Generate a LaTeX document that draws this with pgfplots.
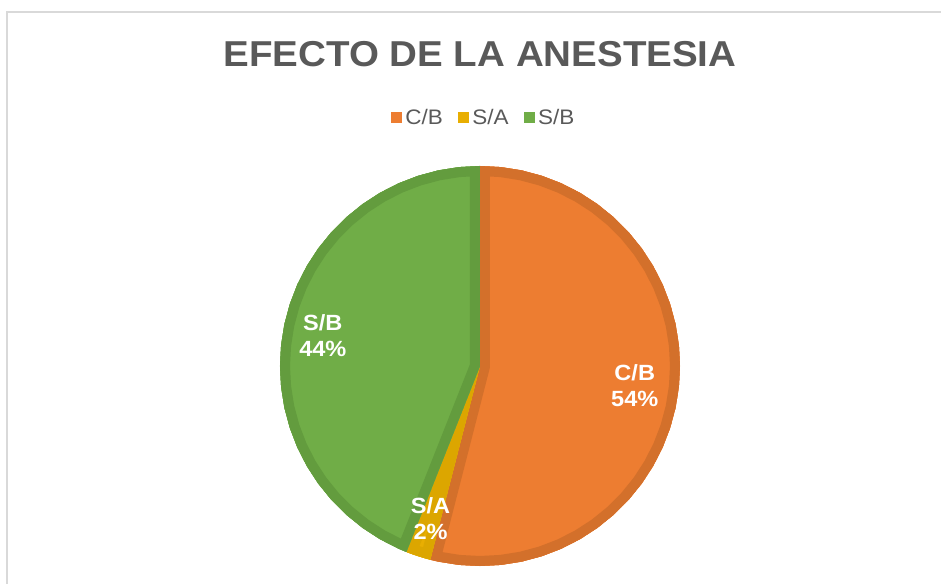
\documentclass[border=0pt]{standalone}
\usepackage{pgfplots}
\pgfplotsset{compat=1.18}
\usepgfplotslibrary{polar}
\usepackage{fontspec}
\setmainfont{Liberation Sans}[FakeStretch=1.07]
\definecolor{cbfill}{HTML}{ED7D31}
\definecolor{cbline}{HTML}{D3702B}
\definecolor{safill}{HTML}{E8AE02}
\definecolor{saline}{HTML}{DCA600}
\definecolor{sbfill}{HTML}{70AD47}
\definecolor{sbline}{HTML}{639C3E}
\definecolor{txtgrey}{HTML}{595959}
\definecolor{framegrey}{HTML}{D9D9D9}
\tikzset{slice/.style n args={2}{fill=#1, draw=none,
  postaction={clip, postaction={draw=#2, line width=15pt, line join=miter}}}}
\begin{document}
\begin{tikzpicture}
\useasboundingbox (-360pt,-163.5pt) rectangle (345.75pt,274.5pt);
\draw[framegrey, line width=1.5pt] (-354.75pt,-170pt) -- (-354.75pt,265.5pt) -- (350pt,265.5pt);
\begin{polaraxis}[
  at={(0pt,0pt)}, anchor=center,
  scale only axis, width=300pt, height=300pt,
  ymin=0, ymax=1, xmin=0, xmax=360,
  hide axis, clip=false,
  title={EFECTO DE LA ANESTESIA},
  title style={at={(0.5,1.2)}, anchor=base, text=txtgrey,
    font=\fontsize{27}{32}\selectfont\bfseries},
  legend image code/.code={\fill[#1] (0pt,-4.1pt) rectangle (8.2pt,4.1pt);},
  legend columns=-1,
  legend style={at={(0.511,1.121)}, anchor=center, draw=none, fill=none,
    font=\fontsize{15.75}{18}\selectfont, text=txtgrey,
    nodes={inner xsep=2.5pt, inner ysep=1pt},
    /tikz/every even column/.append style={column sep=9pt}},
]
\addlegendimage{fill=cbfill, draw=none}
\addlegendimage{fill=safill, draw=none}
\addlegendimage{fill=sbfill, draw=none}
\legend{C/B, S/A, S/B}
% C/B 54%
\addplot[slice={cbfill}{cbline}] coordinates {
 (0,0) (90,1) (84,1) (78,1) (72,1) (66,1) (60,1) (54,1) (48,1) (42,1) (36,1)
 (30,1) (24,1) (18,1) (12,1) (6,1) (0,1) (-6,1) (-12,1) (-18,1) (-24,1)
 (-30,1) (-36,1) (-42,1) (-48,1) (-54,1) (-60,1) (-66,1) (-72,1) (-78,1)
 (-84,1) (-90,1) (-96,1) (-102,1) (-104.4,1)} -- cycle;
% S/A 2%
\addplot[slice={safill}{saline}] coordinates {
 (0,0) (-104.4,1) (-106,1) (-108,1) (-110,1) (-111.6,1)} -- cycle;
% S/B 44%
\addplot[slice={sbfill}{sbline}] coordinates {
 (0,0) (-111.6,1) (-114,1) (-120,1) (-126,1) (-132,1) (-138,1) (-144,1)
 (-150,1) (-156,1) (-162,1) (-168,1) (-174,1) (-180,1) (-186,1) (-192,1)
 (-198,1) (-204,1) (-210,1) (-216,1) (-222,1) (-228,1) (-234,1) (-240,1)
 (-246,1) (-252,1) (-258,1) (-264,1) (-270,1)} -- cycle;
\tikzset{lbl/.style={align=center, text=white,
  font=\fontsize{16.5}{19.5}\selectfont\bfseries}}
\node[lbl] at (axis cs:-7.2,0.78) {C/B\\54\%};
\node[lbl] at (axis cs:-108,0.80) {S/A\\2\%};
\node[lbl] at (axis cs:169.2,0.80) {S/B\\44\%};
\end{polaraxis}
\end{tikzpicture}
\end{document}
